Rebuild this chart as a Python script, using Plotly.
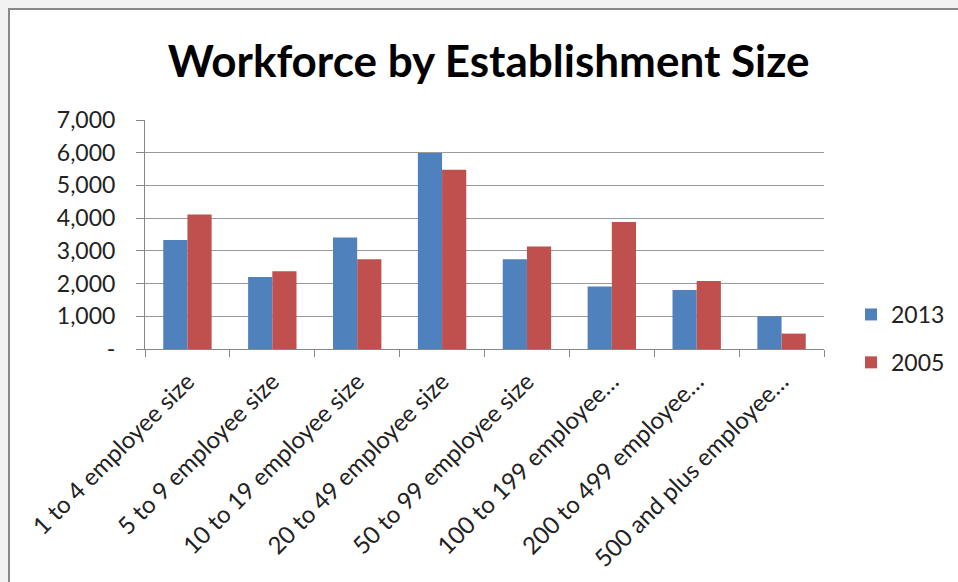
import plotly.graph_objects as go

categories = [
    "1 to 4 employee size",
    "5 to 9 employee size",
    "10 to 19 employee size",
    "20 to 49 employee size",
    "50 to 99 employee size",
    "100 to 199 employee…",
    "200 to 499 employee…",
    "500 and plus employee…",
]
values_2013 = [3330, 2200, 3410, 5990, 2740, 1910, 1800, 1000]
values_2005 = [4110, 2380, 2740, 5480, 3130, 3880, 2080, 470]
y_tickvals = [0, 1000, 2000, 3000, 4000, 5000, 6000, 7000]
y_ticktext = ["-", "1,000", "2,000", "3,000", "4,000", "5,000", "6,000", "7,000"]

FONT = "Lato, Calibri, Carlito, sans-serif"

W, H = 958, 582
L, R, T, B = 145, 134, 120, 233
pw, ph = W - L - R, H - T - B

def px_x(p):
    return (p - L) / pw

def px_y(p):
    return (H - B - p) / ph

fig = go.Figure()
fig.add_trace(go.Bar(name="2013", x=categories, y=values_2013,
                     marker=dict(color="#4F81BD", line=dict(width=0)),
                     legendgroup="a"))
fig.add_trace(go.Bar(name="2005", x=categories, y=values_2005,
                     marker=dict(color="#C0504D", line=dict(width=0)),
                     legendgroup="b"))

fig.update_layout(
    width=W, height=H,
    margin=dict(l=L, r=R, t=T, b=B, pad=0, autoexpand=False),
    paper_bgcolor="#f2f2f2",
    plot_bgcolor="rgba(0,0,0,0)",
    font=dict(family=FONT, size=23, color="#222222"),
    title=dict(text="<b>Workforce by Establishment Size</b>",
               font=dict(family=FONT, size=44, color="#000000"),
               x=0.51, xanchor="center", y=0.895, yanchor="middle"),
    barmode="group",
    bargap=0.43,
    bargroupgap=0,
    showlegend=True,
    legend=dict(x=px_x(851), y=px_y(293), xanchor="left", yanchor="top",
                traceorder="grouped", tracegroupgap=15,
                font=dict(family=FONT, size=23, color="#222222"),
                bgcolor="rgba(0,0,0,0)"),
    shapes=[
        dict(type="rect", xref="paper", yref="paper",
             x0=px_x(9), x1=px_x(975), y0=px_y(600), y1=px_y(9),
             fillcolor="white", line=dict(color="#888888", width=2),
             layer="below"),
    ],
)

fig.update_xaxes(
    tickangle=-45,
    showline=True, linecolor="#888888", linewidth=1,
    ticks="outside", tickson="boundaries", ticklen=7, tickcolor="#888888",
    showgrid=False,
    ticklabelstandoff=8,
    tickfont=dict(family=FONT, size=24, color="#222222"),
)
fig.update_yaxes(
    range=[0, 7000],
    tickvals=y_tickvals, ticktext=y_ticktext,
    showline=True, linecolor="#888888", linewidth=1,
    showgrid=True, gridcolor="#9a9a9a", gridwidth=1,
    ticks="outside", ticklen=8, tickcolor="#888888",
    ticklabelstandoff=16,
    tickfont=dict(family=FONT, size=23, color="#222222"),
    zeroline=False,
)

fig.write_html("out.html", config={"displayModeBar": False},
               post_script="document.body.style.margin='0';")
